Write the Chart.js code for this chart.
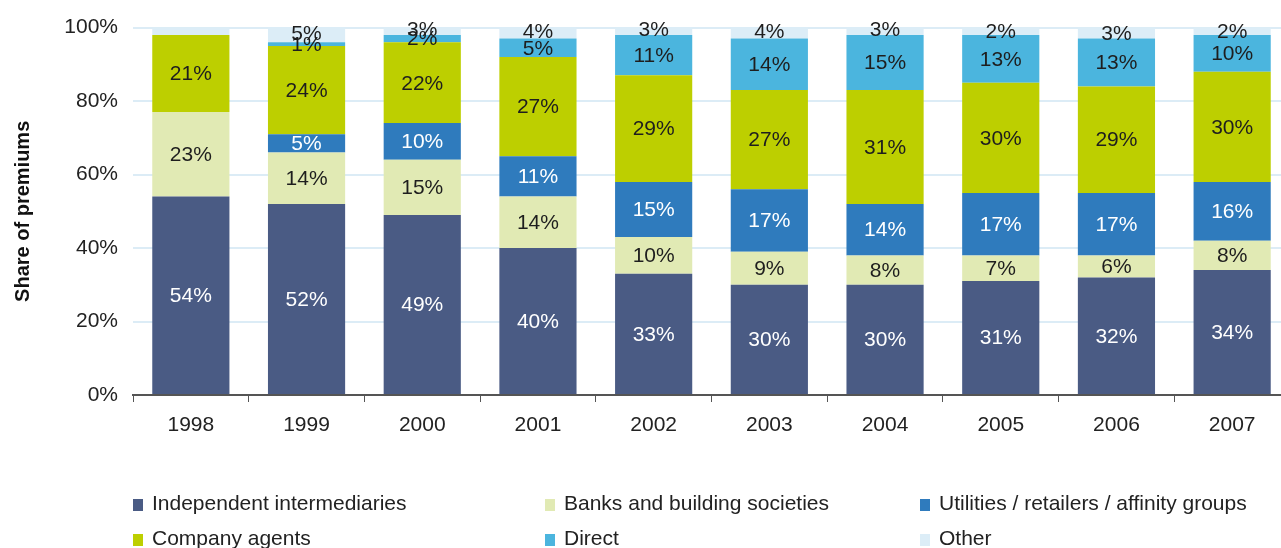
<!DOCTYPE html>
<html>
<head>
<meta charset="utf-8">
<script src="https://cdn.jsdelivr.net/npm/chart.js@4.4.0/dist/chart.umd.min.js"></script>
<style>
  html, body { margin: 0; padding: 0; background: #fff; overflow: hidden; }
  body { width: 1281px; height: 548px; position: relative; font-family: "Liberation Sans", Arial, sans-serif; }
  #wrap { position: absolute; left: 0; top: 0; width: 1290px; height: 461px; }
  #legend { position: absolute; left: 0; top: 0; width: 1281px; height: 548px; pointer-events: none; }
  .item { position: absolute; font-size: 21px; color: #222; white-space: nowrap; line-height: 24px; }
  .item i { display: inline-block; width: 10px; height: 12px; margin-right: 9px; vertical-align: -1px; }
</style>
</head>
<body>
<div id="wrap"><canvas id="chart"></canvas></div>
<div id="legend"></div>
<script>
// ─── Data (share of premiums, %) ───
const YEARS = ['1998', '1999', '2000', '2001', '2002', '2003', '2004', '2005', '2006', '2007'];

const independent = [54, 52, 49, 40, 33, 30, 30, 31, 32, 34];
const banks       = [23, 14, 15, 14, 10,  9,  8,  7,  6,  8];
const utilities   = [ 0,  5, 10, 11, 15, 17, 14, 17, 17, 16];
const agents      = [21, 24, 22, 27, 29, 27, 31, 30, 29, 30];
const direct      = [ 0,  1,  2,  5, 11, 14, 15, 13, 13, 10];
const other       = [ 2,  5,  3,  4,  3,  4,  3,  2,  3,  2];
// 1998 "Other" sliver carries no label in the source
const otherLabelled = [false, true, true, true, true, true, true, true, true, true];

const Y_TICKS = [0, 20, 40, 60, 80, 100];

const SERIES = [
  { label: 'Independent intermediaries',            data: independent, color: '#4a5b84', text: '#ffffff' },
  { label: 'Banks and building societies',          data: banks,       color: '#e1eab4', text: '#1e1e1e' },
  { label: 'Utilities / retailers / affinity groups', data: utilities, color: '#2f7bbd', text: '#ffffff' },
  { label: 'Company agents',                        data: agents,      color: '#bdcf00', text: '#1e1e1e' },
  { label: 'Direct',                                data: direct,      color: '#4bb5de', text: '#1e1e1e' },
  { label: 'Other',                                 data: other,       color: '#dcedf7', text: '#1e1e1e' },
];

// legend placement (two rows, three columns like the source)
const LEGEND_POS = [[133, 491], [545, 491], [920, 491], [133, 526], [545, 526], [920, 526]];

const FONT = '"Liberation Sans", Arial, sans-serif';

// ─── Segment value labels ───
const segmentLabels = {
  id: 'segmentLabels',
  afterDatasetsDraw(chart) {
    const ctx = chart.ctx;
    ctx.save();
    ctx.font = `21px ${FONT}`;
    ctx.textAlign = 'center';
    ctx.textBaseline = 'middle';
    chart.data.datasets.forEach((ds, di) => {
      const meta = chart.getDatasetMeta(di);
      meta.data.forEach((bar, i) => {
        const v = ds.data[i];
        if (!v) return;
        if (ds.label === 'Other' && !otherLabelled[i]) return;
        ctx.fillStyle = SERIES[di].text;
        ctx.fillText(`${v}%`, bar.x, (bar.y + bar.base) / 2 + 1);
      });
    });
    ctx.restore();
  },
};

function buildChart() {
  const ctx = document.getElementById('chart').getContext('2d');
  new Chart(ctx, {
    type: 'bar',
    data: {
      labels: YEARS,
      datasets: SERIES.map(s => ({
        label: s.label,
        data: s.data,
        backgroundColor: s.color,
        borderWidth: 0,
        barPercentage: 0.667,
        categoryPercentage: 1,
      })),
    },
    options: {
      responsive: true,
      maintainAspectRatio: false,
      animation: false,
      layout: { padding: { top: 21, right: 0, left: 0, bottom: 0 } },
      plugins: {
        legend: { display: false },
        tooltip: { enabled: false },
      },
      scales: {
        x: {
          stacked: true,
          grid: {
            offset: true,
            drawOnChartArea: false,
            drawTicks: true,
            tickLength: 7,
            color: '#555',
          },
          border: { display: true, color: '#555', width: 2 },
          ticks: { color: '#222', font: { family: FONT, size: 21 }, padding: 11, maxRotation: 0 },
          afterFit: s => { s.height = 66; },
        },
        y: {
          stacked: true,
          min: 0,
          max: 100,
          afterBuildTicks: s => { s.ticks = Y_TICKS.map(v => ({ value: v })); },
          grid: {
            drawTicks: false,
            color: ctx => (ctx.tick && ctx.tick.value === 0 ? 'rgba(0,0,0,0)' : '#dcecf6'),
            lineWidth: 2,
          },
          border: { display: false },
          ticks: {
            color: '#222',
            font: { family: FONT, size: 21 },
            padding: 15,
            callback: v => `${v}%`,
          },
          title: {
            display: true,
            text: 'Share of premiums',
            color: '#111',
            font: { family: FONT, size: 20, weight: 'bold' },
            padding: { top: 11, bottom: 0 },
          },
          afterFit: s => { s.width = 133; },
        },
      },
    },
    plugins: [segmentLabels],
  });
}

function buildLegend() {
  const box = document.getElementById('legend');
  SERIES.forEach((s, i) => {
    const el = document.createElement('div');
    el.className = 'item';
    el.style.left = LEGEND_POS[i][0] + 'px';
    el.style.top = LEGEND_POS[i][1] + 'px';
    const sw = document.createElement('i');
    sw.style.background = s.color;
    el.appendChild(sw);
    el.appendChild(document.createTextNode(s.label));
    box.appendChild(el);
  });
}

buildLegend();
buildChart();
</script>
</body>
</html>
